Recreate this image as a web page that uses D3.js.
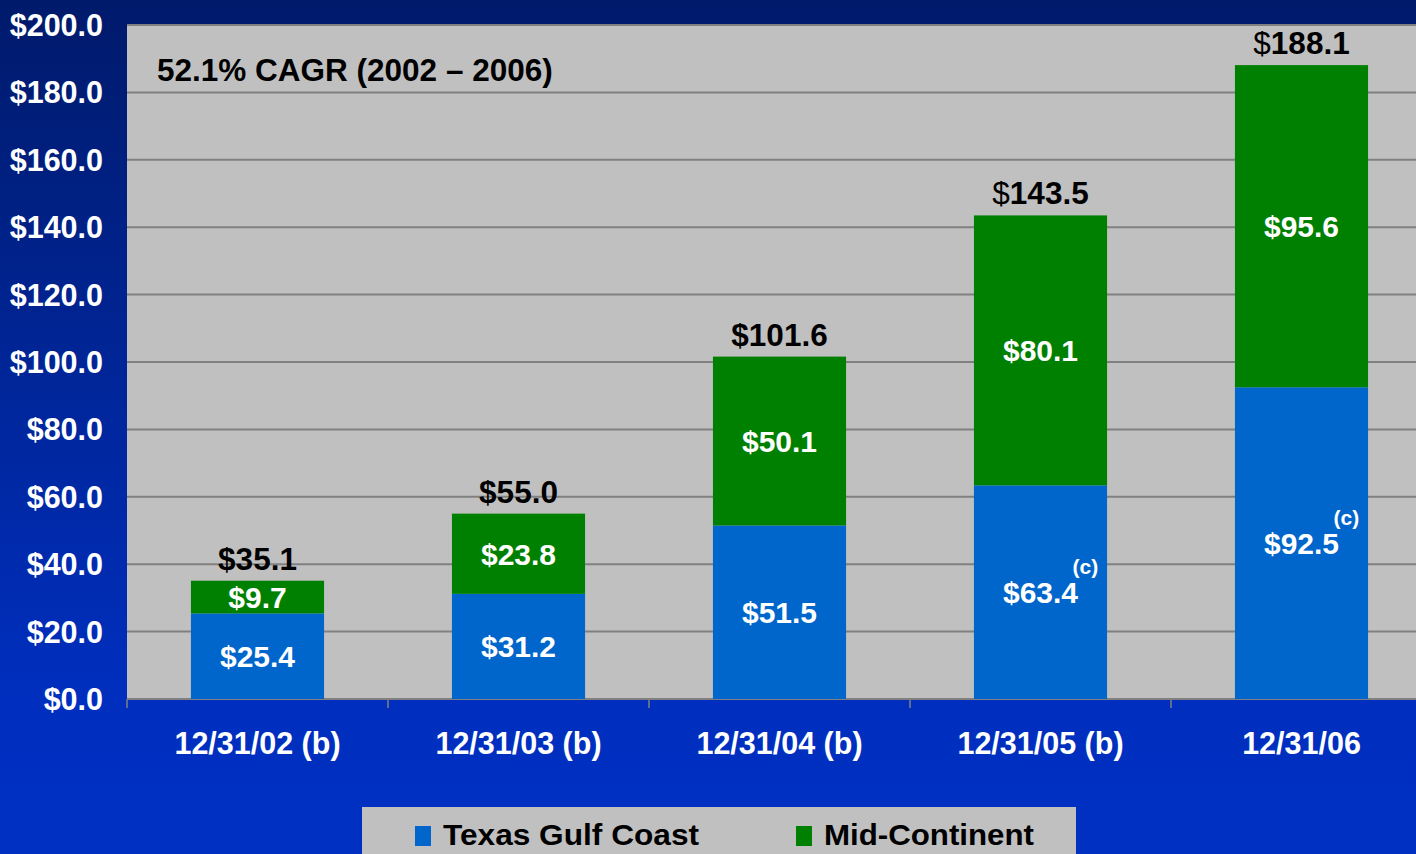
<!DOCTYPE html>
<html>
<head>
<meta charset="utf-8">
<script src="https://cdn.jsdelivr.net/npm/d3@7"></script>
<style>
  html, body { margin: 0; padding: 0; overflow: hidden; }
  svg { display: block; font-family: "Liberation Sans", Arial, sans-serif; font-weight: bold; }
</style>
</head>
<body>
<div id="svg-container"></div>
<script>
const categories = ["12/31/02 (b)", "12/31/03 (b)", "12/31/04 (b)", "12/31/05 (b)", "12/31/06"];
const texasGulf = [25.4, 31.2, 51.5, 63.4, 92.5];
const midContinent = [9.7, 23.8, 50.1, 80.1, 95.6];
const totals = [35.1, 55.0, 101.6, 143.5, 188.1];
const footnoteC = [false, false, false, true, true];
const plainDollar = [false, false, false, true, true];
const yTicks = [0, 20, 40, 60, 80, 100, 120, 140, 160, 180, 200];
const seriesNames = ["Texas Gulf Coast", "Mid-Continent"];
const seriesColors = ["#0066cc", "#008000"];

const width = 1416, height = 854;
const plotLeft = 127, plotTop = 25, plotBottom = 699;

const svg = d3.select("#svg-container").append("svg")
  .attr("width", width)
  .attr("height", height);

// background gradient
const grad = svg.append("defs").append("linearGradient")
  .attr("id", "bg").attr("x1", 0).attr("y1", 0).attr("x2", 0).attr("y2", 1);
grad.append("stop").attr("offset", "0").attr("stop-color", "#001a6b");
grad.append("stop").attr("offset", "0.82").attr("stop-color", "#002fbf");
grad.append("stop").attr("offset", "1").attr("stop-color", "#0030c2");
svg.append("rect").attr("width", width).attr("height", height).attr("fill", "url(#bg)");

const x = d3.scaleBand()
  .domain(categories)
  .range([plotLeft, plotLeft + 5 * 261])
  .paddingInner(0.49)
  .paddingOuter(0.245);

const y = d3.scaleLinear().domain([0, 200]).range([plotBottom, plotTop]);

// plot area
svg.append("rect")
  .attr("x", plotLeft).attr("y", plotTop)
  .attr("width", width - plotLeft).attr("height", plotBottom - plotTop)
  .attr("fill", "#c0c0c0");

// gridlines
svg.selectAll(".grid")
  .data(yTicks)
  .enter().append("line")
  .attr("x1", plotLeft).attr("x2", width)
  .attr("y1", d => y(d)).attr("y2", d => y(d))
  .attr("stroke", "#808080")
  .attr("stroke-width", 2);

// y labels
svg.selectAll(".ylab")
  .data(yTicks)
  .enter().append("text")
  .attr("x", 103)
  .attr("y", d => y(d))
  .attr("dy", "0.36em")
  .attr("text-anchor", "end")
  .attr("fill", "white")
  .style("font-size", "30.5px")
  .text(d => "$" + d.toFixed(1));

// x axis ticks
const tickXs = categories.map((c, i) => plotLeft + i * 261);
svg.selectAll(".xtick")
  .data(tickXs)
  .enter().append("line")
  .attr("x1", d => d).attr("x2", d => d)
  .attr("y1", plotBottom).attr("y2", plotBottom + 9)
  .attr("stroke", "#808080")
  .attr("stroke-width", 1.5);

svg.selectAll(".xlab")
  .data(categories)
  .enter().append("text")
  .attr("x", d => x(d) + x.bandwidth() / 2)
  .attr("y", 754)
  .attr("text-anchor", "middle")
  .attr("fill", "white")
  .style("font-size", "30.5px")
  .text(d => d);

// stacked bars
const stackData = categories.map((c, i) => ({ cat: c, tx: texasGulf[i], mc: midContinent[i] }));
const stacked = d3.stack().keys(["tx", "mc"])(stackData);

const layers = svg.selectAll(".layer")
  .data(stacked)
  .enter().append("g")
  .attr("fill", (d, i) => seriesColors[i]);

layers.selectAll("rect")
  .data(d => d)
  .enter().append("rect")
  .attr("x", d => x(d.data.cat))
  .attr("width", x.bandwidth())
  .attr("y", d => y(d[1]))
  .attr("height", d => y(d[0]) - y(d[1]));

// segment labels
layers.selectAll("text")
  .data(d => d)
  .enter().append("text")
  .attr("x", d => x(d.data.cat) + x.bandwidth() / 2)
  .attr("y", d => (y(d[0]) + y(d[1])) / 2)
  .attr("dy", "0.36em")
  .attr("text-anchor", "middle")
  .attr("fill", "white")
  .style("font-size", "30px")
  .text(d => "$" + (d[1] - d[0]).toFixed(1));

// footnote (c)
svg.selectAll(".fn")
  .data(categories.filter((c, i) => footnoteC[i]))
  .enter().append("text")
  .attr("x", d => x(d) + x.bandwidth() / 2 + 32)
  .attr("y", d => y(texasGulf[categories.indexOf(d)] / 2) - 18)
  .attr("fill", "white")
  .style("font-size", "21px")
  .text("(c)");

// totals
const totLab = svg.selectAll(".tot")
  .data(categories)
  .enter().append("text")
  .attr("x", d => x(d) + x.bandwidth() / 2)
  .attr("y", (d, i) => y(totals[i]) - 11)
  .attr("text-anchor", "middle")
  .attr("fill", "black")
  .style("font-size", "31.5px");
totLab.append("tspan")
  .style("font-weight", (d, i) => plainDollar[i] ? "normal" : "bold")
  .text("$");
totLab.append("tspan")
  .text((d, i) => totals[i].toFixed(1));

// CAGR note
svg.append("text")
  .attr("x", 157).attr("y", 81)
  .attr("fill", "black")
  .style("font-size", "31.5px")
  .text("52.1% CAGR (2002 \u2013 2006)");

// legend
const legend = svg.append("g");
legend.append("rect")
  .attr("x", 362).attr("y", 807)
  .attr("width", 714).attr("height", 60)
  .attr("fill", "#c0c0c0");
const legendXs = [415, 796];
seriesNames.forEach((name, i) => {
  legend.append("rect")
    .attr("x", legendXs[i]).attr("y", 826)
    .attr("width", 16).attr("height", 20)
    .attr("fill", seriesColors[i]);
  legend.append("text")
    .attr("x", legendXs[i] + 28).attr("y", 845)
    .attr("fill", "black")
    .style("font-size", "30px")
    .attr("textLength", i === 0 ? 256 : 210)
    .attr("lengthAdjust", "spacingAndGlyphs")
    .text(name);
});
</script>
</body>
</html>
